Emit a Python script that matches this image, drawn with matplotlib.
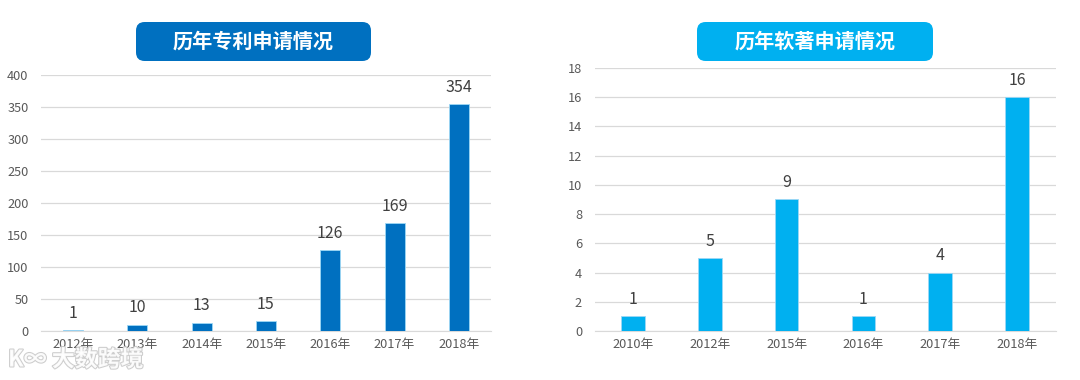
import matplotlib

matplotlib.use("Agg")

import matplotlib.pyplot as plt
import matplotlib.patheffects as pe
from matplotlib.patches import FancyBboxPatch

plt.rcParams["font.family"] = ["Noto Sans CJK SC", "DejaVu Sans"]

patent_years = ["2012年", "2013年", "2014年", "2015年", "2016年", "2017年", "2018年"]
patent_counts = [1, 10, 13, 15, 126, 169, 354]
patent_title = "历年专利申请情况"

soft_years = ["2010年", "2012年", "2015年", "2016年", "2017年", "2018年"]
soft_counts = [1, 5, 9, 1, 4, 16]
soft_title = "历年软著申请情况"

W, H = 1080, 380
GRID = "#D9D9D9"
TICK = "#595959"
LABEL = "#404040"


def draw_panel(fig, rect, cats, vals, ymax, ystep, color):
    ax = fig.add_axes(rect)
    x = range(len(cats))
    ax.bar(x, vals, width=0.31, color=color, edgecolor="#9DD8F5", linewidth=0.6, zorder=3)
    for xi, v in zip(x, vals):
        ax.annotate(str(v), (xi, v), xytext=(0, 6), textcoords="offset points",
                    ha="center", va="bottom", fontsize=11.5, color=LABEL)
    ax.set_xlim(-0.5, len(cats) - 0.5)
    ax.set_ylim(0, ymax)
    ax.set_yticks(range(0, ymax + 1, ystep))
    ax.set_xticks(list(x))
    ax.set_xticklabels(cats)
    ax.yaxis.grid(True, color=GRID, lw=0.9, zorder=0)
    for s in ("top", "right", "left"):
        ax.spines[s].set_visible(False)
    ax.spines["bottom"].set_color(GRID)
    ax.tick_params(axis="both", length=0, colors=TICK, labelsize=9.2)
    ax.tick_params(axis="y", pad=9)
    ax.tick_params(axis="x", pad=5)
    return ax


def title_box(fig, x0, x1, y0, y1, text, color):
    box = FancyBboxPatch((x0 / W, 1 - y1 / H), (x1 - x0) / W, (y1 - y0) / H,
                         boxstyle="round,pad=0,rounding_size=0.008",
                         transform=fig.transFigure, facecolor=color, edgecolor="none",
                         mutation_aspect=W / H)
    fig.patches.append(box)
    fig.text((x0 + x1) / 2 / W, 1 - (y0 + y1) / 2 / H, text, ha="center", va="center",
             color="white", fontsize=14.5, fontweight="bold")


fig = plt.figure(figsize=(W / 100, H / 100), dpi=100)

draw_panel(fig, [41 / W, 49 / H, 450 / W, 256 / H], patent_years, patent_counts, 400, 50, "#0070C0")
draw_panel(fig, [594.5 / W, 49 / H, 461 / W, 263 / H], soft_years, soft_counts, 18, 2, "#00B0F0")

title_box(fig, 136, 371, 22, 61, patent_title, "#0070C0")
title_box(fig, 697, 933, 22, 61, soft_title, "#00B0F0")

# faint watermark at bottom-left, as in the source image
fig.text(8 / W, 1 - 360 / H, "K∞ 大数跨境", ha="left", va="center", fontsize=16.5,
         fontweight="bold", color="white", alpha=0.9,
         path_effects=[pe.withStroke(linewidth=1.5, foreground="#C8C8C8")])

fig.savefig("out.png", dpi=100)
